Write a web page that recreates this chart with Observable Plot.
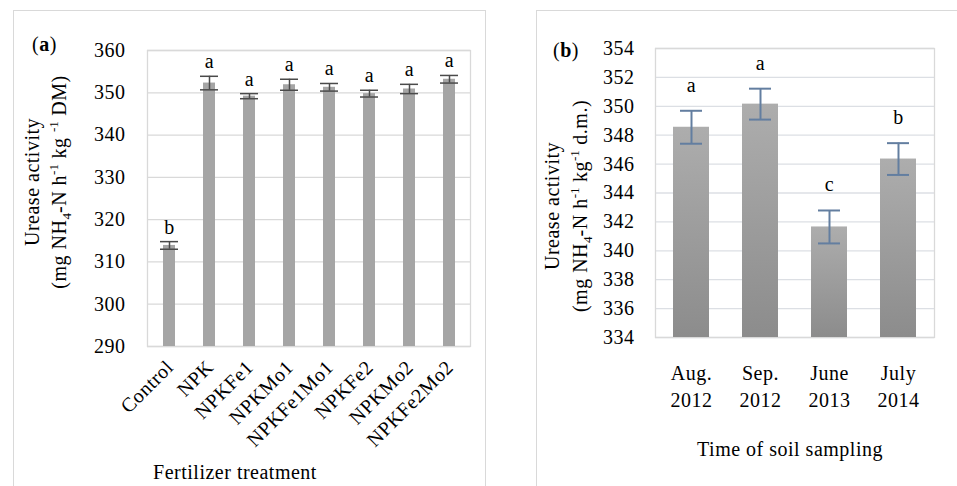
<!DOCTYPE html>
<html>
<head>
<meta charset="utf-8">
<script src="https://cdn.jsdelivr.net/npm/d3@7"></script>
<script src="https://cdn.jsdelivr.net/npm/@observablehq/plot@0.6"></script>
<style>
  html, body { margin: 0; padding: 0; background: #fff; }
  #wrap { position: relative; width: 957px; height: 486px; overflow: hidden; background: #fff; }
  #wrap svg { position: absolute; top: 0; }
  .panel { position: absolute; border-color: #d9d9d9; border-style: solid; pointer-events: none; }
</style>
</head>
<body>
<div id="wrap"></div>
<script>
// ---------- Data: panel (a) ----------
const treatments = ["Control", "NPK", "NPKFe1", "NPKMo1", "NPKFe1Mo1", "NPKFe2", "NPKMo2", "NPKFe2Mo2"];
const activityA = [313.9, 352.3, 349.2, 351.9, 351.3, 349.8, 350.9, 353.2];
const errorA = [0.9, 1.6, 0.6, 1.3, 0.9, 0.8, 1.1, 0.9];
const lettersA = ["b", "a", "a", "a", "a", "a", "a", "a"];
const ticksA = [290, 300, 310, 320, 330, 340, 350, 360];

// ---------- Data: panel (b) ----------
const periods = ["Aug.\n2012", "Sep.\n2012", "June\n2013", "July\n2014"];
const activityB = [348.55, 350.15, 341.65, 346.35];
const errorB = [1.14, 1.07, 1.14, 1.10];
const lettersB = ["a", "a", "c", "b"];
const ticksB = [334, 336, 338, 340, 342, 344, 346, 348, 350, 352, 354];

const FONT = "'Liberation Serif', 'Times New Roman', serif";
const FS = 20;

const dataA = treatments.map((t, i) => ({t, v: activityA[i], e: errorA[i], l: lettersA[i]}));
const dataB = periods.map((p, i) => ({p, v: activityB[i], e: errorB[i], l: lettersB[i]}));

const wrap = document.getElementById("wrap");

function richText(svg, {x, y, rotate = 0, anchor = "middle", parts, size = FS}) {
  const t = svg.append("text")
    .attr("transform", `translate(${x},${y}) rotate(${rotate})`)
    .attr("text-anchor", anchor)
    .attr("font-family", FONT)
    .attr("font-size", size)
    .attr("fill", "#000");
  let off = 0;
  for (const p of parts) {
    const s = t.append("tspan").text(p.t);
    const target = p.sup ? -0.4 * size : p.sub ? 0.25 * size : 0;
    if (target - off !== 0) s.attr("dy", target - off);
    off = target;
    if (p.sup || p.sub) s.attr("font-size", size * 0.65).attr("letter-spacing", "0px");
    else s.attr("letter-spacing", "0.5px");
    if (p.b) s.attr("font-weight", "bold");
  }
  return t;
}

// ---------- Panel (a) ----------
const plotA = Plot.plot({
  width: 485, height: 486,
  marginLeft: 147, marginRight: 15, marginTop: 50, marginBottom: 140,
  style: {fontFamily: FONT, fontSize: FS + "px", background: "transparent", color: "#000", letterSpacing: "0.5px"},
  x: {domain: treatments, paddingInner: 0.7, paddingOuter: 0.35, axis: null},
  y: {domain: [ticksA[0], ticksA[ticksA.length - 1]], label: null},
  marks: [
    Plot.gridY(ticksA, {stroke: "#d9d9d9", strokeOpacity: 1, strokeWidth: 1.3}),
    Plot.frame({stroke: "#d9d9d9", strokeWidth: 1.3}),
    Plot.axisY(ticksA, {tickSize: 0, tickPadding: 22, fill: "#000"}),
    Plot.barY(dataA, {x: "t", y1: ticksA[0], y2: "v", fill: "#a5a5a5"}),
    Plot.ruleX(dataA, {x: "t", y1: d => d.v - d.e, y2: d => d.v + d.e, stroke: "#4a4a4a", strokeWidth: 1.5}),
    Plot.tickY(dataA, {x: "t", y: d => d.v - d.e, stroke: "#4a4a4a", strokeWidth: 1.5, insetLeft: 15, insetRight: 15}),
    Plot.tickY(dataA, {x: "t", y: d => d.v + d.e, stroke: "#4a4a4a", strokeWidth: 1.5, insetLeft: 15, insetRight: 15}),
    Plot.text(dataA, {x: "t", y: d => d.v + d.e, text: "l", dy: -8, lineAnchor: "bottom", fill: "#000"}),
    Plot.text(treatments, {x: d => d, frameAnchor: "bottom", text: d => d, rotate: -45, textAnchor: "end", lineAnchor: "bottom", dx: 5, dy: 22, fill: "#000"})
  ]
});
plotA.style.left = "0px";
wrap.appendChild(plotA);

const sA = d3.select(plotA);
richText(sA, {x: 32, y: 51, anchor: "start", parts: [{t: "("}, {t: "a", b: true}, {t: ")"}]});
richText(sA, {x: 39, y: 182, rotate: -90, parts: [{t: "Urease activity"}]});
richText(sA, {x: 66, y: 182, rotate: -90, parts: [
  {t: "(mg NH"}, {t: "4", sub: true}, {t: "-N h"}, {t: "-1", sup: true}, {t: " kg "}, {t: "-1", sup: true}, {t: " DM)"}
]});
richText(sA, {x: 235, y: 479, parts: [{t: "Fertilizer treatment"}]});

// ---------- Panel (b) ----------
const plotB = Plot.plot({
  width: 477, height: 486,
  marginLeft: 175, marginRight: 23, marginTop: 48, marginBottom: 149,
  style: {fontFamily: FONT, fontSize: FS + "px", background: "transparent", color: "#000", letterSpacing: "0.5px"},
  x: {domain: periods, paddingInner: 0.48, paddingOuter: 0.24, axis: null},
  y: {domain: [ticksB[0], ticksB[ticksB.length - 1]], label: null},
  marks: [
    () => {
      const defs = d3.create("svg:defs");
      const g = defs.append("linearGradient").attr("id", "barGradB")
        .attr("x1", 0).attr("y1", 0).attr("x2", 0).attr("y2", 1);
      g.append("stop").attr("offset", "0%").attr("stop-color", "#adadad");
      g.append("stop").attr("offset", "100%").attr("stop-color", "#8c8c8c");
      return defs.node();
    },
    Plot.gridY(ticksB, {stroke: "#dcdfe4", strokeOpacity: 1, strokeWidth: 1.3}),
    Plot.frame({stroke: "#d9d9d9", strokeWidth: 1.3}),
    Plot.axisY(ticksB, {tickSize: 0, tickPadding: 21, fill: "#000"}),
    Plot.barY(dataB, {x: "p", y1: ticksB[0], y2: "v", fill: "url(#barGradB)"}),
    Plot.ruleX(dataB, {x: "p", y1: d => d.v - d.e, y2: d => d.v + d.e, stroke: "#637ea0", strokeWidth: 2}),
    Plot.tickY(dataB, {x: "p", y: d => d.v - d.e, stroke: "#637ea0", strokeWidth: 2, insetLeft: 29, insetRight: 29}),
    Plot.tickY(dataB, {x: "p", y: d => d.v + d.e, stroke: "#637ea0", strokeWidth: 2, insetLeft: 29, insetRight: 29}),
    Plot.text(dataB, {x: "p", y: d => d.v + d.e, text: "l", dy: -19, lineAnchor: "bottom", fill: "#000"}),
    Plot.text(periods, {x: d => d, frameAnchor: "bottom", text: d => d, lineAnchor: "top", lineHeight: 1.35, dy: 23, fill: "#000"})
  ]
});
plotB.style.left = "480px";
wrap.appendChild(plotB);

const sB = d3.select(plotB);
richText(sB, {x: 73, y: 57, anchor: "start", parts: [{t: "("}, {t: "b", b: true}, {t: ")"}]});
richText(sB, {x: 79, y: 206, rotate: -90, parts: [{t: "Urease activity"}]});
richText(sB, {x: 107, y: 206, rotate: -90, parts: [
  {t: "(mg NH"}, {t: "4", sub: true}, {t: "-N h"}, {t: "-1", sup: true}, {t: " kg"}, {t: "-1", sup: true}, {t: " d.m.)"}
]});
richText(sB, {x: 310, y: 456, parts: [{t: "Time of soil sampling"}]});

// ---------- Panel frames ----------
const fa = document.createElement("div");
fa.className = "panel";
Object.assign(fa.style, {left: "13px", top: "10px", width: "471px", height: "520px", borderWidth: "1.3px 1.3px 0 1.3px"});
wrap.appendChild(fa);
const fb = document.createElement("div");
fb.className = "panel";
Object.assign(fb.style, {left: "536px", top: "10px", width: "440px", height: "520px", borderWidth: "1.3px 0 0 1.3px"});
wrap.appendChild(fb);
</script>
</body>
</html>
